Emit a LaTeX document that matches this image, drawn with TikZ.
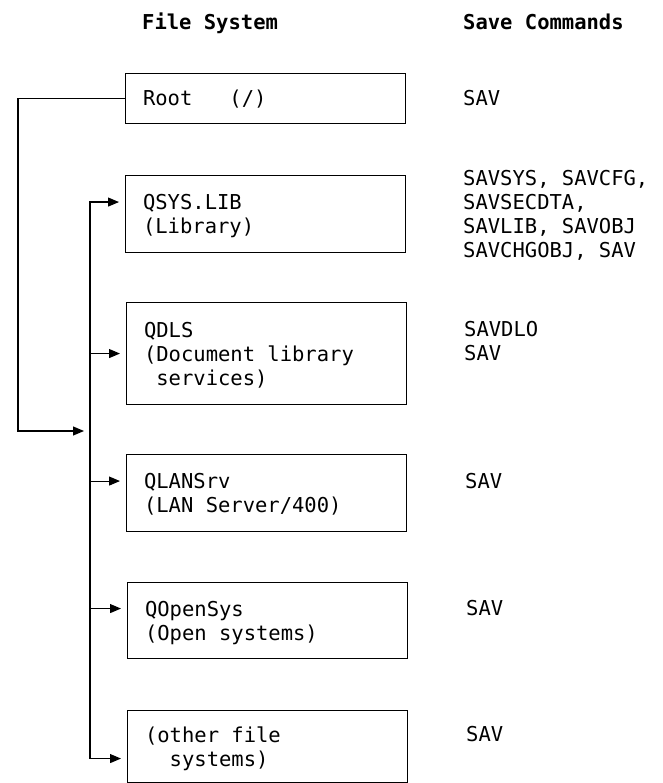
\documentclass[tikz,border=0pt]{standalone}
\usepackage{fontspec}
\setmonofont{DejaVu Sans Mono}
\usetikzlibrary{arrows.meta,positioning}
\newcommand\fsboxfont{\ttfamily\fontsize{20.5}{24}\selectfont\lineskiplimit=-30pt}
\newcommand\fsheadfont{\ttfamily\bfseries\fontsize{20.5}{24}\selectfont}
\newcommand\lnst{\spaceskip=0.6021em\relax\xspaceskip=0.6021em\relax\rule[-6pt]{0pt}{26.9pt}}

\begin{document}
\begin{tikzpicture}[x=1pt,y=-1pt,
  fsbox/.style={draw,line width=1.1pt,anchor=north west,minimum width=280pt,text width=245pt,
    inner xsep=17.5pt,inner ysep=0pt,align=left,font=\fsboxfont},
  cmd/.style={anchor=north west,inner sep=0pt,align=left,font=\fsboxfont},
  fshead/.style={anchor=base west,inner sep=0pt,font=\fsheadfont},
  link/.style={line width=1.1pt,line cap=rect},
  feed/.style={link,-{Triangle[length=11pt,width=9pt]},shorten >=6pt}]
\useasboundingbox (0,0) rectangle (662,783);
\node[fshead] (fstitle) at (142,29.5) {File System};
\node[fshead] (cmdtitle) at (463,29.5) {Save Commands};
\node[fsbox,minimum height=50pt] (root) at (125,73) {\lnst Root\ \ \ (/)};
\node[fsbox,minimum height=77pt] (qsys) at (125,175) {\lnst QSYS.LIB\\\lnst(Library)};
\node[fsbox,minimum height=102pt] (qdls) at (126,302) {\lnst QDLS\\\lnst(Document library\\\lnst\mbox{\ }services)};
\node[fsbox,minimum height=77pt] (qlan) at (126,454) {\lnst QLANSrv\\\lnst(LAN Server/400)};
\node[fsbox,minimum height=76pt] (qopen) at (127,582) {\lnst QOpenSys\\\lnst(Open systems)};
\node[fsbox,minimum height=72pt] (other) at (127,710) {\lnst(other file\\\lnst\mbox{\ \ }systems)};
\node[cmd] (rootcmd) at (463,84.5) {\lnst SAV};
\node[cmd] (qsyscmd) at (463,164) {\lnst SAVSYS, SAVCFG,\\SAVSECDTA,\\SAVLIB, SAVOBJ\\SAVCHGOBJ, SAV};
\node[cmd] (qdlscmd) at (464,315.5) {\lnst SAVDLO\\SAV};
\node[cmd] (qlancmd) at (465,467) {\lnst SAV};
\node[cmd] (qopencmd) at (466,594.5) {\lnst SAV};
\node[cmd] (othercmd) at (466,720.5) {\lnst SAV};
\coordinate (bus) at (90,0);
\coordinate (qsysin) at ([yshift=12pt]qsys.west);
\coordinate (qdlsin) at (qdls.west);
\coordinate (qlanin) at ([yshift=12pt]qlan.west);
\coordinate (qopenin) at ([yshift=12pt]qopen.west);
\coordinate (otherin) at ([yshift=-12pt]other.west);
\draw[link] (bus |- qsysin) -- (bus |- otherin);
\foreach \t in {qsysin,qdlsin,qlanin,qopenin,otherin}
  \draw[feed] (bus |- \t) -- (\t);
\coordinate (drop) at (18,431);
\coordinate (join) at (90,431);
\draw[feed] (root.west) -| (drop) -- (join);
\end{tikzpicture}
\end{document}
